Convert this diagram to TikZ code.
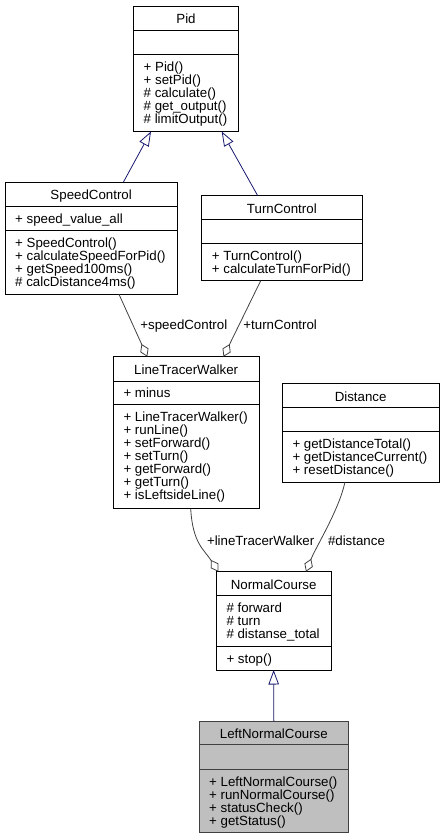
\documentclass[tikz,border=0pt]{standalone}
\usepackage{fontspec}
\setmainfont{Liberation Sans}
\usetikzlibrary{arrows.meta,calc}

\definecolor{inheritcol}{HTML}{191970}
\definecolor{assoccol}{HTML}{404040}
\definecolor{currentcol}{HTML}{BFBFBF}

\newcommand\umlfont{\fontsize{13.3}{13}\selectfont}

\tikzset{
  classbox/.style={draw=black, fill=white, line width=0.8pt, anchor=north west,
    inner sep=0pt, outer sep=0pt},
  currentbox/.style={classbox, draw=assoccol, fill=currentcol},
  divider/.style={draw=black, line width=0.8pt},
  classtitle/.style={anchor=base, inner sep=0pt, font=\umlfont},
  member/.style={anchor=base west, inner sep=0pt, font=\umlfont},
  edgelabel/.style={anchor=base west, inner sep=0pt, font=\umlfont},
  inheritance/.style={draw=inheritcol, line width=0.8pt,
    -{Triangle[open, length=14.5pt, width=10.5pt, fill=white]}},
  aggregation/.style={draw=assoccol, line width=0.8pt,
    -{Diamond[open, length=14pt, width=9pt, fill=white]}},
}

\begin{document}
\begin{tikzpicture}[x=1pt, y=-1pt]
\useasboundingbox (0,0) rectangle (444,839);

% ---------- Pid ----------
\node[classbox, minimum width=105, minimum height=125.5] (pid) at (133.5,6) {};
\draw[divider] ([yshift=-24pt]pid.north west) -- ([yshift=-24pt]pid.north east);
\draw[divider] ([yshift=-48pt]pid.north west) -- ([yshift=-48pt]pid.north east);
\node[classtitle] (pid-t) at (186,23.3) {Pid};
\node[member] (pid-m1) at (143.5,71.2) {+ Pid()};
\node[member] (pid-m2) at (143.5,84.2) {+ setPid()};
\node[member] (pid-m3) at (143.5,97.2) {\# calculate()};
\node[member] (pid-m4) at (143.5,110.2) {\# get\_output()};
\node[member] (pid-m5) at (143.5,123.2) {\# limitOutput()};

% ---------- SpeedControl ----------
\node[classbox, minimum width=172.3, minimum height=112] (sc) at (5,182.3) {};
\draw[divider] ([yshift=-24pt]sc.north west) -- ([yshift=-24pt]sc.north east);
\draw[divider] ([yshift=-48pt]sc.north west) -- ([yshift=-48pt]sc.north east);
\node[classtitle] (sc-t) at (91.15,199.6) {SpeedControl};
\node[member] (sc-a1) at (15,223.5) {+ speed\_value\_all};
\node[member] (sc-m1) at (15,247.5) {+ SpeedControl()};
\node[member] (sc-m2) at (15,260.5) {+ calculateSpeedForPid()};
\node[member] (sc-m3) at (15,273.5) {+ getSpeed100ms()};
\node[member] (sc-m4) at (15,286.5) {\# calcDistance4ms()};

% ---------- TurnControl ----------
\node[classbox, minimum width=160.3, minimum height=85] (tc) at (201.7,195.7) {};
\draw[divider] ([yshift=-24pt]tc.north west) -- ([yshift=-24pt]tc.north east);
\draw[divider] ([yshift=-48pt]tc.north west) -- ([yshift=-48pt]tc.north east);
\node[classtitle] (tc-t) at (281.85,213) {TurnControl};
\node[member] (tc-m1) at (211.7,260.9) {+ TurnControl()};
\node[member] (tc-m2) at (211.7,273.9) {+ calculateTurnForPid()};

% ---------- LineTracerWalker ----------
\node[classbox, minimum width=145.7, minimum height=152] (ltw) at (113.3,356.7) {};
\draw[divider] ([yshift=-24.3pt]ltw.north west) -- ([yshift=-24.3pt]ltw.north east);
\draw[divider] ([yshift=-48pt]ltw.north west) -- ([yshift=-48pt]ltw.north east);
\node[classtitle] (ltw-t) at (186.15,374) {LineTracerWalker};
\node[member] (ltw-a1) at (123.3,397.8) {+ minus};
\node[member] (ltw-m1) at (123.3,421.7) {+ LineTracerWalker()};
\node[member] (ltw-m2) at (123.3,434.7) {+ runLine()};
\node[member] (ltw-m3) at (123.3,447.7) {+ setForward()};
\node[member] (ltw-m4) at (123.3,460.7) {+ setTurn()};
\node[member] (ltw-m5) at (123.3,473.7) {+ getForward()};
\node[member] (ltw-m6) at (123.3,486.7) {+ getTurn()};
\node[member] (ltw-m7) at (123.3,499.7) {+ isLeftsideLine()};

% ---------- Distance ----------
\node[classbox, minimum width=156.7, minimum height=98.3] (dist) at (282.3,383.7) {};
\draw[divider] ([yshift=-24pt]dist.north west) -- ([yshift=-24pt]dist.north east);
\draw[divider] ([yshift=-48pt]dist.north west) -- ([yshift=-48pt]dist.north east);
\node[classtitle] (dist-t) at (360.65,401) {Distance};
\node[member] (dist-m1) at (292.3,448.9) {+ getDistanceTotal()};
\node[member] (dist-m2) at (292.3,461.9) {+ getDistanceCurrent()};
\node[member] (dist-m3) at (292.3,474.9) {+ resetDistance()};

% ---------- NormalCourse ----------
\node[classbox, minimum width=114.7, minimum height=98.3] (nc) at (216.3,571.7) {};
\draw[divider] ([yshift=-23.6pt]nc.north west) -- ([yshift=-23.6pt]nc.north east);
\draw[divider] ([yshift=-74.3pt]nc.north west) -- ([yshift=-74.3pt]nc.north east);
\node[classtitle] (nc-t) at (273.65,589) {NormalCourse};
\node[member] (nc-a1) at (226.3,612.6) {\# forward};
\node[member] (nc-a2) at (226.3,625.6) {\# turn};
\node[member] (nc-a3) at (226.3,638.6) {\# distanse\_total};
\node[member] (nc-m1) at (226.3,663.2) {+ stop()};

% ---------- LeftNormalCourse ----------
\node[currentbox, minimum width=149.7, minimum height=111.7] (lnc) at (199,721) {};
\draw[divider, draw=assoccol] ([yshift=-23.3pt]lnc.north west) -- ([yshift=-23.3pt]lnc.north east);
\draw[divider, draw=assoccol] ([yshift=-48pt]lnc.north west) -- ([yshift=-48pt]lnc.north east);
\node[classtitle] (lnc-t) at (273.85,738.3) {LeftNormalCourse};
\node[member] (lnc-m1) at (209,786.2) {+ LeftNormalCourse()};
\node[member] (lnc-m2) at (209,799.2) {+ runNormalCourse()};
\node[member] (lnc-m3) at (209,812.2) {+ statusCheck()};
\node[member] (lnc-m4) at (209,825.2) {+ getStatus()};

% ---------- inheritance ----------
\draw[inheritance] ([xshift=118.3pt]sc.north west) -- ([xshift=17.5pt]pid.south west);
\draw[inheritance] ([xshift=56pt]tc.north west) -- ([xshift=88.2pt]pid.south west);
\draw[inheritance] (lnc.north) -- (nc.south);

% ---------- aggregation ----------
\draw[aggregation] ([xshift=114pt]sc.south west) -- ([xshift=34pt]ltw.north west);
\draw[aggregation] ([xshift=59pt]tc.south west) -- ([xshift=110.2pt]ltw.north west);
\draw[aggregation] ([xshift=77.4pt]ltw.south west)
  .. controls +(2,35) and +(-14,-22) .. ([xshift=2pt]nc.north west);
\draw[aggregation] ([xshift=62.7pt]dist.south west)
  .. controls +(-6,28) and +(10,-25) .. ([xshift=89.7pt]nc.north west);

% ---------- role labels ----------
\node[edgelabel] (lbl-sc) at (140.2,329.3) {+speedControl};
\node[edgelabel] (lbl-tc) at (243.2,329.3) {+turnControl};
\node[edgelabel] (lbl-ltw) at (206.8,545) {+lineTracerWalker};
\node[edgelabel] (lbl-dist) at (327.8,545) {\#distance};
\end{tikzpicture}
\end{document}
